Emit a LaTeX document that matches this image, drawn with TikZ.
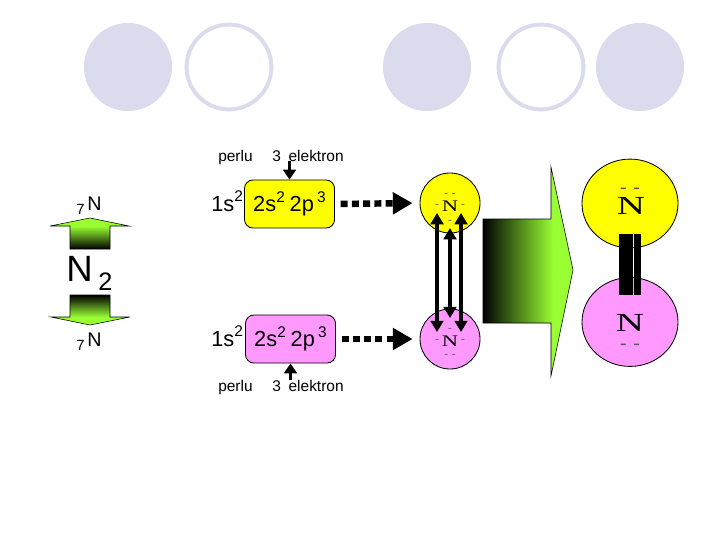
\documentclass[tikz,border=0pt]{standalone}
\usepackage{fontspec}
\setmainfont{Liberation Sans}
\newfontfamily\atomfont{Liberation Serif}
\usetikzlibrary{arrows.meta,shapes.geometric}
\definecolor{NLavender}{HTML}{DBDBEE}
\definecolor{NYellow}{HTML}{FFFF00}
\definecolor{NPink}{HTML}{FF99FF}
\definecolor{NGreen}{HTML}{99FF33}
\definecolor{NDash}{HTML}{555555}
\pgfdeclarehorizontalshading{bigfade}{100bp}{color(0bp)=(black); color(25bp)=(black); color(64bp)=(NGreen); color(100bp)=(NGreen)}
\pgfdeclareverticalshading{upfade}{100bp}{color(0bp)=(black); color(25bp)=(black); color(62bp)=(NGreen); color(100bp)=(NGreen)}
\pgfdeclareverticalshading{downfade}{100bp}{color(0bp)=(NGreen); color(38bp)=(NGreen); color(75bp)=(black); color(100bp)=(black)}
\newcommand{\upnum}[1]{\raisebox{0.42em}{\fontsize{11}{11}\selectfont #1}}
\tikzset{
  discfull/.style={circle,fill=NLavender,minimum size=2.2cm,inner sep=0pt},
  discring/.style={circle,draw=NLavender,line width=2.8pt,fill=white,minimum size=2.12cm,inner sep=0pt},
  orbitbox/.style={draw=black,line width=0.6pt,rounded corners=6pt,minimum width=2.25cm,minimum height=1.2cm,inner sep=0pt,font=\fontsize{15.5}{15.5}\selectfont},
  atomsmall/.style={circle,draw=black,line width=0.6pt,minimum size=1.5cm,inner sep=0pt},
  atombig/.style={ellipse,draw=black,line width=0.6pt,minimum width=2.4cm,minimum height=2.22cm,inner sep=0pt},
  lettersmall/.style={font=\atomfont\fontsize{11.5}{11.5}\selectfont,xscale=1.4,transform shape,inner sep=0pt},
  letterbig/.style={font=\atomfont\fontsize{18.5}{18.5}\selectfont,xscale=1.5,transform shape,inner sep=0pt},
  lonesmall/.style={font=\atomfont\fontsize{8}{8}\selectfont,text=NDash,inner sep=0pt},
  lonebig/.style={font=\atomfont\fontsize{14}{14}\selectfont,text=NDash,inner sep=0pt},
  caption/.style={font=\fontsize{11}{11}\selectfont,inner sep=0pt},
  symtext/.style={font=\fontsize{14}{14}\selectfont,inner sep=0pt},
  coretext/.style={font=\fontsize{15.5}{15.5}\selectfont,inner sep=0pt},
  massnum/.style={font=\fontsize{10.5}{10.5}\selectfont,inner sep=0pt},
  dotarrow/.style={line width=4.6pt,dash pattern=on 5pt off 3pt,-{Triangle[length=14pt,width=15pt]}},
  needarrow/.style={line width=2.8pt,-{Triangle[length=7pt,width=9pt]}},
  bondarrow/.style={line width=3pt,{Triangle[length=8pt,width=9pt]}-{Triangle[length=8pt,width=9pt]}},
}
\begin{document}
\begin{tikzpicture}[x=0.025cm,y=-0.025cm]
\path[use as bounding box] (0,0) rectangle (720,540);
% background discs
\node[discfull] (disca) at (128,67) {};
\node[discring] (discb) at (229,67) {};
\node[discfull] (discc) at (427,67) {};
\node[discring] (discd) at (541,67) {};
\node[discfull] (disce) at (640,67) {};
% left column
\node[symtext,anchor=base west] (symtop) at (87,210) {N};
\node[massnum,anchor=base west] (masstop) at (76,214) {7};
\path[shading=upfade,draw=black,line width=0.4pt] (50,226) -- (90,218) -- (129,226) -- (110,226) -- (110,249) -- (70,249) -- (70,226) -- cycle;
\node[font=\fontsize{26}{26}\selectfont,inner sep=0pt,anchor=base west] (molN) at (66,281) {N};
\node[font=\fontsize{18}{18}\selectfont,inner sep=0pt,anchor=base west] (molsub) at (98,290) {2};
\path[shading=downfade,draw=black,line width=0.4pt] (70,295) -- (110,295) -- (110,317) -- (130,317) -- (90,325) -- (51,317) -- (70,317) -- cycle;
\node[symtext,anchor=base west] (symbot) at (87,346) {N};
\node[massnum,anchor=base west] (massbot) at (76,350) {7};
% orbital boxes
\node[caption,anchor=base west] (perlutop) at (218,161) {perlu};
\node[caption,anchor=base west] (needtop) at (272,161) {3\hspace{0.5em}elektron};
\node[coretext,anchor=base west] (coretop) at (211,211) {1s\upnum{2}};
\node[orbitbox,fill=NYellow] (boxtop) at (289.5,204) {2s\upnum{2}\hspace{0.22em}2p\hspace{0.15em}\upnum{3}};
\node[coretext,anchor=base west] (corebot) at (211,346) {1s\upnum{2}};
\node[orbitbox,fill=NPink] (boxbot) at (290.5,339) {2s\upnum{2}\hspace{0.22em}2p\hspace{0.15em}\upnum{3}};
\node[caption,anchor=base west] (perlubot) at (218,391) {perlu};
\node[caption,anchor=base west] (needbot) at (272,391) {3\hspace{0.5em}elektron};
\draw[needarrow] (boxtop.north |- needtop.south) -- (boxtop.north);
\draw[needarrow] (boxbot.south |- needbot.north) -- (boxbot.south);
% small atoms
\node[atomsmall,fill=NYellow] (atomtop) at (450,203) {};
\node[atomsmall,fill=NPink] (atombot) at (450,339) {};
\node[lettersmall] (Ntop) at (450,206) {N};
\node[lettersmall] (Nbot) at (450,341) {N};
\node[lonesmall] (tta) at (450,195) {-\,\,-};
\node[lonesmall] (ttb) at (437,206) {-};
\node[lonesmall] (ttc) at (463,206) {-};
\node[lonesmall] (ttd) at (450,222) {-};
\node[lonesmall] (tba) at (450,330) {-};
\node[lonesmall] (tbb) at (437,341) {-};
\node[lonesmall] (tbc) at (463,341) {-};
\node[lonesmall] (tbd) at (450,356) {-\,\,-};
\draw[dotarrow,shorten <=4pt,shorten >=5pt] (boxtop.east) -- (atomtop.west);
\draw[dotarrow,shorten <=4pt,shorten >=5pt] (boxbot.east) -- (atombot.west);
% shared electrons
\coordinate (sharetopa) at (437,213);
\coordinate (sharebota) at (437,332);
\coordinate (sharetopb) at (450,228);
\coordinate (sharebotb) at (450,318);
\coordinate (sharetopc) at (461,213);
\coordinate (sharebotc) at (461,332);
\draw[bondarrow] (sharetopa) -- (sharebota);
\draw[bondarrow] (sharetopb) -- (sharebotb);
\draw[bondarrow] (sharetopc) -- (sharebotc);
% big arrow
\path[shading=bigfade,draw=black,line width=0.4pt] (483,219) -- (551,219) -- (551,167) -- (573,270) -- (551,376) -- (551,323) -- (483,323) -- cycle;
% molecule
\node[atombig,fill=NYellow] (bigtop) at (630,203.5) {};
\node[atombig,fill=NPink] (bigbot) at (630,322) {};
\fill[black] (619,234) rectangle (633,295);
\fill[black] (634,234) rectangle (641,295);
\node[letterbig] (Nbigtop) at (631,205.5) {N};
\node[letterbig] (Nbigbot) at (630,322.5) {N};
\node[lonebig] (lonebigtop) at (630,191) {-\,\,-};
\node[lonebig] (lonebigbot) at (630,347) {-\,\,-};
\end{tikzpicture}
\end{document}
